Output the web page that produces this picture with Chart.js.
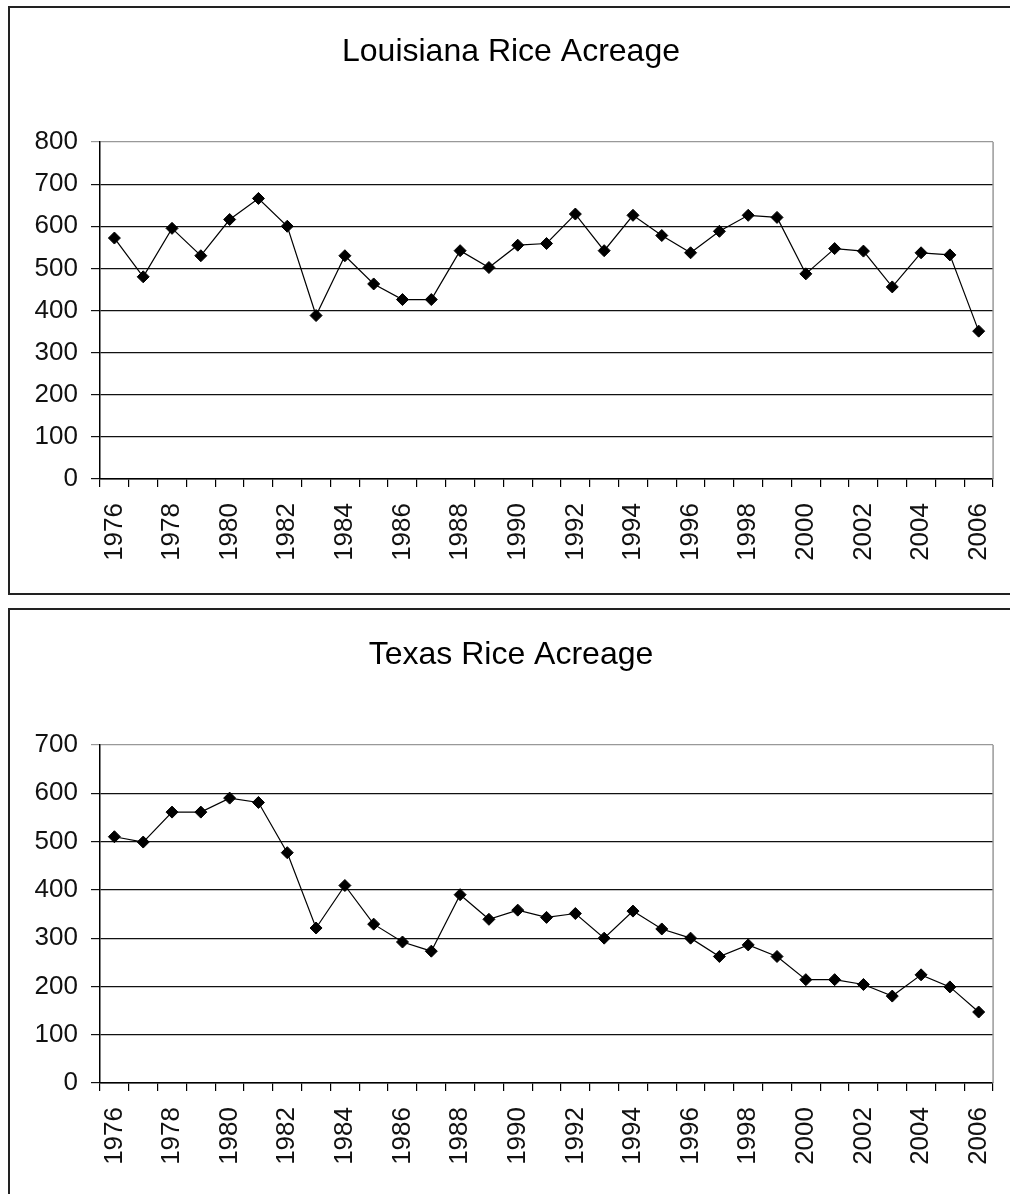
<!DOCTYPE html>
<html>
<head>
<meta charset="utf-8">
<script src="https://cdn.jsdelivr.net/npm/chart.js@4.4.0/dist/chart.umd.min.js"></script>
<style>
  html, body { margin: 0; padding: 0; background: #fff; overflow: hidden; width: 1010px; height: 1194px; }
  .box { position: absolute; border: 2px solid #222; box-sizing: border-box; }
  canvas { position: absolute; left: 0; }
</style>
</head>
<body>
<div class="box" style="left:8px; top:6px; width:1030px; height:589px;"></div>
<div class="box" style="left:8px; top:608px; width:1030px; height:700px;"></div>
<canvas id="laChart" width="1026" height="593" style="top:0px;"></canvas>
<canvas id="txChart" width="1026" height="594" style="top:603px;"></canvas>
<script>
// ====================== DATA ======================
const years = [];
for (let y = 1976; y <= 2006; y++) years.push(String(y));

// thousand acres
const louisianaAcres = [572, 480, 595, 530, 616, 666, 600, 388, 530, 463, 426, 426, 542, 502,
  555, 559, 629, 542, 626, 578, 537, 588, 626, 621, 487, 547, 541, 456, 537, 532, 351];
const texasAcres = [510, 499, 561, 561, 590, 581, 477, 321, 409, 329, 292, 273, 390, 339,
  358, 343, 351, 300, 356, 319, 300, 262, 286, 262, 214, 214, 204, 180, 224, 199, 147];

const laTitle = "Louisiana Rice Acreage";
const txTitle = "Texas Rice Acreage";
const laMax = 800;
const txMax = 700;

const FONT = "'Liberation Sans', Arial, sans-serif";

// right edge of the plot area (Excel style grey frame)
const plotFrame = {
  id: "plotFrame",
  afterDraw(chart) {
    const a = chart.chartArea;
    const ctx = chart.ctx;
    ctx.save();
    ctx.strokeStyle = "#999";
    ctx.lineWidth = 1.5;
    ctx.beginPath();
    ctx.moveTo(a.right, a.top);
    ctx.lineTo(a.right, a.bottom);
    ctx.stroke();
    ctx.restore();
  }
};

function makeChart(id, title, values, maxY) {
  return new Chart(document.getElementById(id), {
    type: "line",
    data: {
      labels: years,
      datasets: [{
        data: values,
        borderColor: "#000",
        borderWidth: 1.2,
        tension: 0,
        pointStyle: "rectRot",
        pointRadius: 6,
        pointBackgroundColor: "#000",
        pointBorderColor: "#000",
        pointBorderWidth: 1
      }]
    },
    options: {
      responsive: false,
      animation: false,
      layout: { padding: { left: 0, right: 4, top: 0, bottom: 0 } },
      plugins: {
        legend: { display: false },
        tooltip: { enabled: false },
        title: {
          display: true,
          text: title,
          color: "#000",
          font: { family: FONT, size: 32, weight: "normal", lineHeight: 1.2 },
          padding: { top: 33, bottom: 70.6 }
        }
      },
      scales: {
        x: {
          type: "category",
          offset: true,
          grid: {
            offset: true,
            drawOnChartArea: false,
            drawTicks: true,
            tickLength: 8,
            color: "#000",
            lineWidth: 1.2
          },
          border: { display: true, color: "#000", width: 1.5 },
          ticks: {
            autoSkip: false,
            minRotation: 90,
            maxRotation: 90,
            padding: 16,
            color: "#111",
            font: { family: FONT, size: 26 },
            callback: (v, i) => (i % 2 === 0 ? years[i] : "")
          },
          afterFit: s => { s.height = 114; }
        },
        y: {
          min: 0,
          max: maxY,
          grid: {
            drawTicks: true,
            tickLength: 9,
            lineWidth: 1.2,
            color: c => (c.tick && c.tick.value === maxY ? "#999" : "#111")
          },
          border: { display: true, color: "#000", width: 1.5 },
          ticks: {
            stepSize: 100,
            padding: 13,
            color: "#111",
            font: { family: FONT, size: 26 }
          },
          afterFit: s => { s.width = 100; }
        }
      }
    },
    plugins: [plotFrame]
  });
}

const laChart = makeChart("laChart", laTitle, louisianaAcres, laMax);
const txChart = makeChart("txChart", txTitle, texasAcres, txMax);
</script>
</body>
</html>
